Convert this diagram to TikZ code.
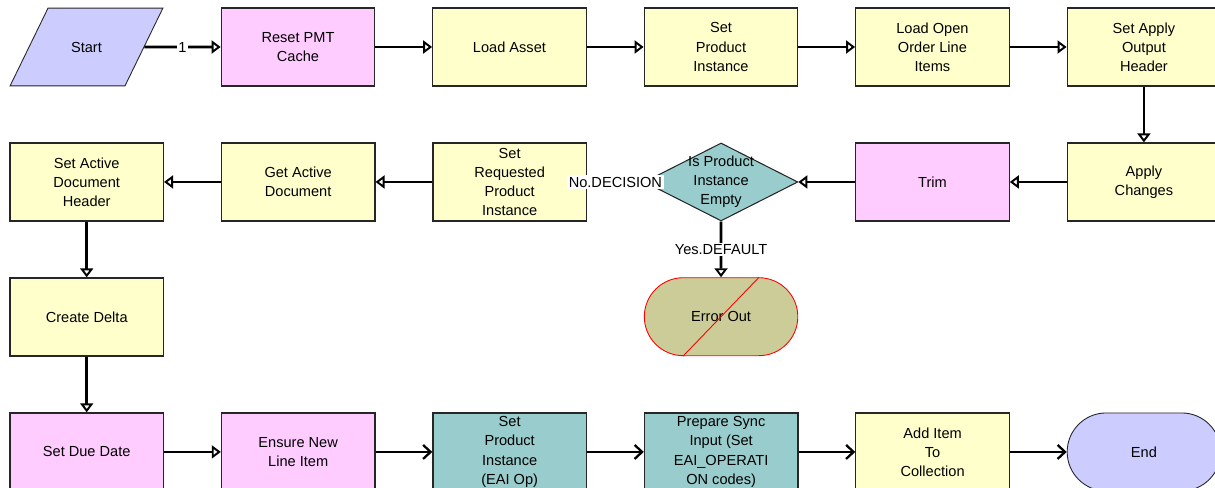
\documentclass[tikz,border=0pt]{standalone}
\usepackage{fontspec}
\setmainfont{Liberation Sans}
\usepackage{tikz}
\usetikzlibrary{arrows.meta,positioning,shapes.geometric,shapes.misc}
\definecolor{wfyellow}{HTML}{FFFFCC}
\definecolor{wfpink}{HTML}{FFCCFF}
\definecolor{wfteal}{HTML}{99CCCC}
\definecolor{wfblue}{HTML}{CCCCFF}
\definecolor{wfolive}{HTML}{CCCC99}

\begin{document}
\begin{tikzpicture}[
  node distance=1.115cm and 1.135cm,
  box/.style={rectangle, draw=black!85, line width=0.7pt,
              minimum width=3.07cm, minimum height=1.56cm,
              inner xsep=1pt, inner ysep=0pt, align=center,
              font=\fontsize{8.3}{10.9}\selectfont},
  task/.style={box, fill=wfyellow},
  svc/.style={box, fill=wfpink},
  eai/.style={box, fill=wfteal},
  term/.style={rounded rectangle, draw=black!85, line width=0.5pt,
               minimum width=3.07cm, minimum height=1.56cm,
               inner sep=0pt, fill=wfblue, font=\fontsize{8.3}{10.9}\selectfont},
  decision/.style={diamond, draw=black!85, line width=0.6pt, fill=wfteal,
                   minimum width=3.07cm, minimum height=1.56cm, inner sep=0pt},
  flow/.style={-{Triangle[open,length=1.8mm,width=2.6mm,line width=1.1pt]}, line width=1.6pt},
  flowb/.style={-{Straight Barb[length=1.5mm,width=2.8mm,line width=1.3pt]}, line width=1.6pt},
  tag/.style={fill=white, inner sep=1pt, font=\fontsize{8.3}{10.9}\selectfont},
]
\useasboundingbox (0,0) rectangle (24.3,-9.76);
\fill[white] (0,0) rectangle (24.3,-9.76);
\clip (0,0) rectangle (24.3,-9.76);

% Row 1
\node[trapezium, trapezium left angle=64, trapezium right angle=116,
      draw=black!85, line width=0.5pt, fill=wfblue, inner sep=0pt,
      text width=1.54cm, align=center, text height=25.4pt, text depth=18.8pt,
      font=\fontsize{8.3}{10.9}\selectfont] (start) at (1.73,-0.94) {Start};
\node[svc] (reset) at (5.96,-0.94) {Reset PMT\\Cache};
\node[task, right=of reset] (asset) {Load Asset};
\node[task, right=of asset] (setpi) {Set\\Product\\Instance};
\node[task, right=of setpi] (loadline) {Load Open\\Order Line\\Items};
\node[task, right=of loadline] (outhdr) {Set Apply\\Output\\Header};

% Row 2
\node[task, below=of outhdr] (apply) {Apply\\Changes};
\node[svc, left=of apply] (trim) {Trim};
\node[decision, left=of trim,
      label={[align=center, font=\fontsize{8.3}{10.9}\selectfont]center:Is Product\\Instance\\Empty}] (isempty) {};
\node[task, left=of isempty] (setreq) {Set\\Requested\\Product\\Instance};
\node[task, left=of setreq] (getdoc) {Get Active\\Document};
\node[task, left=of getdoc] (dochdr) {Set Active\\Document\\Header};

% Row 3
\node[task, below=of dochdr] (delta) {Create Delta};
\node[term, fill=wfolive, draw=red, below=of isempty] (errout) {Error Out};
\draw[red, line width=0.5pt] ([xshift=-0.76cm]errout.south) -- ([xshift=0.76cm]errout.north);

% Row 4
\node[svc, below=of delta] (duedate) {Set Due Date};
\node[svc, right=of duedate] (ensure) {Ensure New\\Line Item};
\node[eai, right=of ensure] (setpieai) {Set\\Product\\Instance\\(EAI Op)};
\node[eai, right=of setpieai] (prepsync) {Prepare Sync\\Input (Set\\EAI\_OPERATI\\ON codes)};
\node[task, right=of prepsync] (additem) {Add Item\\To\\Collection};
\node[term, right=of additem] (finish) {End};

% Connectors
\draw[flow] (start) -- (reset) node[tag, midway] {1};
\draw[flow] (reset) -- (asset);
\draw[flow] (asset) -- (setpi);
\draw[flow] (setpi) -- (loadline);
\draw[flow] (loadline) -- (outhdr);
\draw[flow] (outhdr) -- (apply);
\draw[flow] (apply) -- (trim);
\draw[flow] (trim) -- (isempty);
\draw[flow] (isempty) -- (setreq) node[tag, midway] {No.DECISION};
\draw[flow] (isempty) -- (errout) node[tag, midway] {Yes.DEFAULT};
\draw[flow] (setreq) -- (getdoc);
\draw[flow] (getdoc) -- (dochdr);
\draw[flow] (dochdr) -- (delta);
\draw[flow] (delta) -- (duedate);
\draw[flow] (duedate) -- (ensure);
\draw[flowb] (ensure) -- (setpieai);
\draw[flowb] (setpieai) -- (prepsync);
\draw[flowb] (prepsync) -- (additem);
\draw[flowb] (additem) -- (finish);
\end{tikzpicture}
\end{document}
